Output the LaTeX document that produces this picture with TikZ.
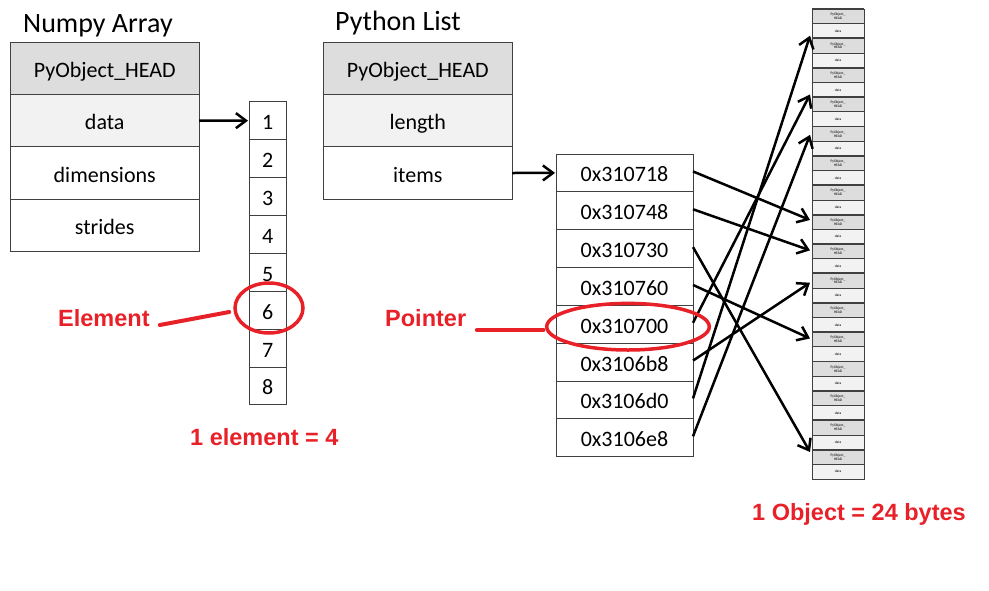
\documentclass[tikz,border=0pt]{standalone}
\usepackage{fontspec}
\setmainfont{Carlito}
\newfontfamily\redfont{Liberation Sans}
\usetikzlibrary{arrows.meta,calc,shapes.geometric}
\definecolor{hdr}{HTML}{DDDDDD}
\definecolor{lite}{HTML}{F2F2F2}
\definecolor{bdr}{HTML}{404040}
\definecolor{annot}{RGB}{232,32,40}
\begin{document}
\begin{tikzpicture}[x=1pt,y=-1pt,
  cell/.style={draw=bdr,line width=1pt,inner sep=0pt,outer sep=0pt,text height=18pt,text depth=0pt,font=\fontsize{22}{26}\selectfont},
  bigcell/.style={cell,minimum width=188.5pt,minimum height=52.4pt},
  numcell/.style={cell,fill=white,minimum width=37.5pt,minimum height=37.9pt},
  ptrcell/.style={cell,fill=white,minimum width=137pt,minimum height=37.84pt},
  objhead/.style={draw=bdr,line width=0.8pt,fill=hdr,inner sep=0pt,outer sep=0pt,minimum width=52pt,minimum height=14.6875pt,font=\fontsize{3.6}{3.9}\selectfont,align=center},
  objdata/.style={objhead,fill=lite},
  titletext/.style={font=\fontsize{28}{32}\selectfont,inner sep=0pt,anchor=base west},
  note/.style={text=annot,font=\redfont\bfseries\fontsize{23.5}{26}\selectfont,inner sep=0pt,anchor=base west},
  redline/.style={draw=annot,line width=4pt,line cap=round},
  redring/.style={draw=annot,line width=3.5pt,ellipse,inner sep=0pt},
  ptr/.style={line width=2.5pt,-{Straight Barb[length=10pt,width=15pt,line width=2.5pt]}},
]
\useasboundingbox (0,0) rectangle (989,590);

% titles
\node[titletext] (t1) at (23,32) {Numpy Array};
\node[titletext] (t2) at (335,30) {Python List};

% numpy array struct
\node[bigcell,fill=hdr] (nh) at (104.75,68.2) {PyObject\_HEAD};
\node[bigcell,fill=lite] (nd) at (104.75,120.6) {data};
\node[bigcell,fill=white] (nm) at (104.75,173.0) {dimensions};
\node[bigcell,fill=white] (ns) at (104.75,225.4) {strides};

% python list struct
\node[bigcell,fill=hdr] (lh) at (417.8,68.2) {PyObject\_HEAD};
\node[bigcell,fill=lite] (ll) at (417.8,120.6) {length};
\node[bigcell,fill=white] (li) at (417.8,173.0) {items};

% numpy data buffer
\foreach \i in {1,...,8} {
  \node[numcell] (e\i) at (267.75,{120.65+37.9*(\i-1)}) {\i};
}

% pointer array
\foreach \i/\t in {1/0x310718,2/0x310748,3/0x310730,4/0x310760,5/0x310700,6/0x3106b8,7/0x3106d0,8/0x3106e8} {
  \node[ptrcell] (p\i) at (624.5,{172.92+37.84*(\i-1)}) {\t};
}

% objects column
\foreach \k in {0,...,15} {
  \node[objhead] (g\k) at (838,{16.34+29.375*\k}) {PyObject\_\\HEAD};
  \node[objdata] (d\k) at (838,{31.03+29.375*\k}) {data};
  \draw[bdr,line width=1.8pt] (g\k.north west) -- (g\k.north east);
}
\draw[bdr,line width=1pt] (g0.north west) rectangle (d15.south east);

% arrows
\draw[ptr] (nd.east) -- ([xshift=-1pt]e1.west);
\draw[ptr] (li.east) -- ([xshift=-1pt]p1.west);

\draw[ptr] ([yshift=1.5pt]p1.east) -- ($(g7.west)+(-2,-2)$);
\draw[ptr] ([yshift=1.5pt]p2.east) -- ($(g8.west)+(-2,-1)$);
\draw[ptr] ([yshift=1.5pt]p3.east) -- ($(g15.west)+(-2,-5)$);
\draw[ptr] ([yshift=1.5pt]p4.east) -- ($(g11.west)+(-2,-1)$);
\draw[ptr] ([yshift=1.5pt]p5.east) -- ($(g3.west)+(-2,-10)$);
\draw[ptr] ([yshift=1.5pt]p6.east) -- ($(g9.west)+(-2,2)$);
\draw[ptr] ([yshift=1.5pt]p7.east) -- ($(g1.west)+(-2,-10)$);
\draw[ptr] ([yshift=1.5pt]p8.east) -- ($(g4.west)+(-2,1)$);

% annotations
\node[note] (elt) at (58,326.7) {Element};
\node[redring,minimum width=68pt,minimum height=50pt] (ring6) at (269,308) {};
\draw[redline] ($(elt.base east)+(10,-1.7)$) -- ($(ring6.west)+(-4,4)$);

\node[note] (ptxt) at (385,326.7) {Pointer};
\node[redring,minimum width=162.6pt,minimum height=46.6pt] (ringp) at (628,326.7) {};
\draw[redline] ($(ptxt.base east)+(10.5,3.3)$) -- ($(ringp.west)+(-1.5,3.3)$);

\node[note] (esz) at (190,445) {1 element = 4};
\node[note] (osz) at (752,520) {1 Object = 24 bytes};
\end{tikzpicture}
\end{document}
